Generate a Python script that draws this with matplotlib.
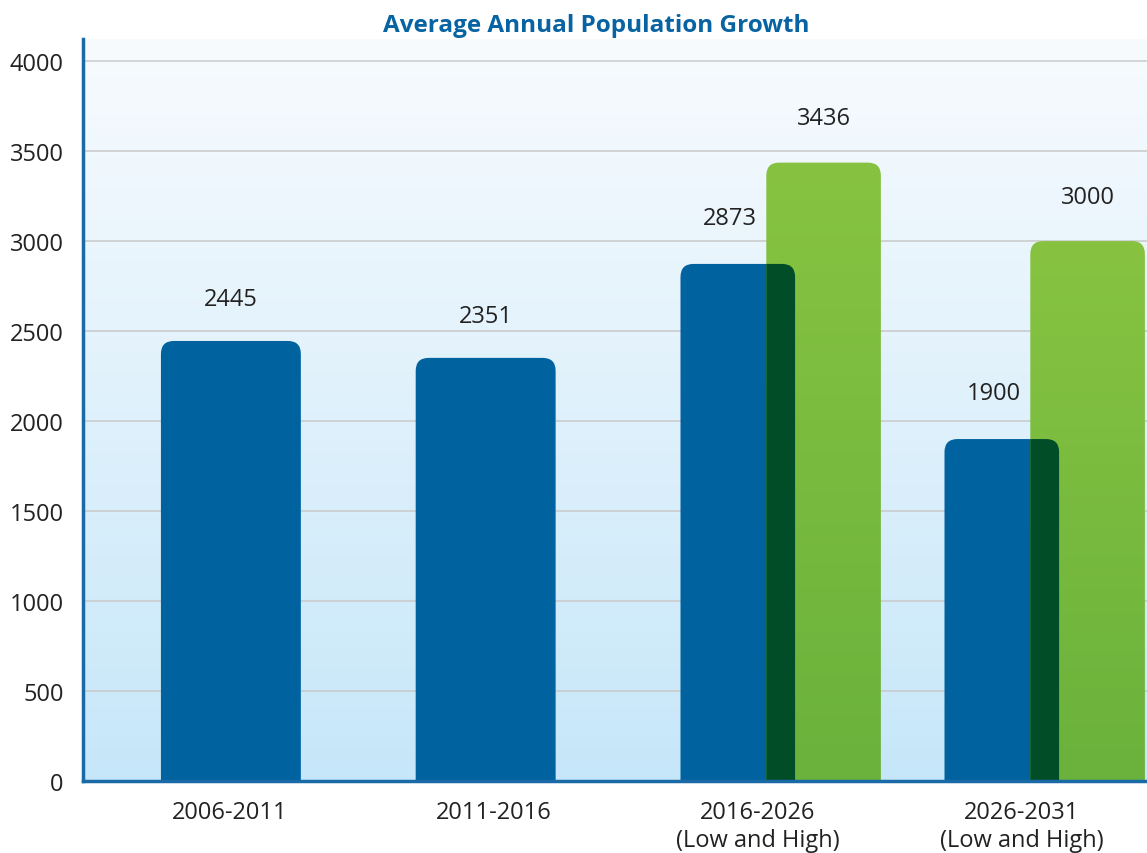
import matplotlib

matplotlib.use("Agg")
import matplotlib.pyplot as plt  # noqa: E402
import numpy as np  # noqa: E402
from matplotlib.patches import FancyBboxPatch  # noqa: E402

plt.rcParams["font.family"] = ["Open Sans", "DejaVu Sans"]

# data
periods = ["2006-2011", "2011-2016", "2016-2026\n(Low and High)", "2026-2031\n(Low and High)"]
low_growth = [2445, 2351, 2873, 1900]
high_growth = [None, None, 3436, 3000]

BLUE = "#0063a0"
DARK_GREEN = "#004d27"
AXIS_BLUE = "#1a6aa8"
TITLE_BLUE = "#0863a3"

fig = plt.figure(figsize=(11.47, 8.54), dpi=100)
ax = fig.add_axes([0.0724, 0.0843, 0.9276, 0.8687])

YMAX = 4122
x0, x1 = -0.555, 3.475
ax.set_xlim(x0, x1)
ax.set_ylim(0, YMAX)

# background gradient
grad = np.linspace(0, 1, 256).reshape(-1, 1)
bg = matplotlib.colors.LinearSegmentedColormap.from_list("bg", ["#c6e7f9", "#f8fbfe"])
ax.imshow(grad, aspect="auto", cmap=bg, origin="lower",
          extent=[x0, x1, 0, YMAX], zorder=0)

for y in range(500, 4001, 500):
    ax.axhline(y, color="#c9c9c9", lw=1.1, zorder=0.5)

# px -> data scaling for rounded corners
px_x = (x1 - x0) / 1064.0
px_y = YMAX / 742.0
rad = 13 * px_x
aspect = px_y / px_x


def rounded_bar(xc, w, h, **kw):
    p = FancyBboxPatch((xc - w / 2, -600), w, h + 600,
                       boxstyle=f"round,pad=0,rounding_size={rad}",
                       mutation_aspect=aspect, lw=0, **kw)
    ax.add_patch(p)
    return p


green_cmap = matplotlib.colors.LinearSegmentedColormap.from_list("g", ["#6ab23c", "#87c341"])
single_shift = [0.005, -0.03]

for i, (lo, hi) in enumerate(zip(low_growth, high_growth)):
    if hi is None:
        w = 0.53
        bx = i + single_shift[i]
        rounded_bar(bx, w, lo, color=BLUE, zorder=2)
        ax.annotate(f"{lo}", (bx, lo), xytext=(0, 30), textcoords="offset points",
                    ha="center", va="center", fontsize=17, color="#222222")
    else:
        w = 0.434
        bx = i - 0.075
        gx = i + 0.25
        rounded_bar(bx, w, lo, color=BLUE, zorder=2)
        gp = rounded_bar(gx, w, hi, facecolor="none", zorder=3)
        im = ax.imshow(grad, aspect="auto", cmap=green_cmap, origin="lower",
                       extent=[gx - w / 2, gx + w / 2, 0, hi], zorder=3)
        im.set_clip_path(gp)
        ov = rounded_bar(bx, w, lo, color=DARK_GREEN, zorder=4)
        ov.set_clip_path(gp)
        ax.annotate(f"{lo}", (bx - 0.03, lo), xytext=(0, 33), textcoords="offset points",
                    ha="center", va="center", fontsize=17, color="#222222")
        ax.annotate(f"{hi}", (gx, hi), xytext=(0, 32), textcoords="offset points",
                    ha="center", va="center", fontsize=17, color="#222222")

ax.set_xlim(x0, x1)
ax.set_ylim(0, YMAX)

ax.set_xticks(range(len(periods)))
ax.set_xticklabels(periods, fontsize=17, color="#222222", linespacing=1.2)
ax.set_yticks(range(0, 4001, 500))
ax.set_yticklabels([str(v) for v in range(0, 4001, 500)], fontsize=17, color="#222222")
ax.tick_params(length=0, pad=14)
ax.tick_params(axis="x", pad=14)
for s in ("top", "right"):
    ax.spines[s].set_visible(False)
for s in ("left", "bottom"):
    ax.spines[s].set_color(AXIS_BLUE)
    ax.spines[s].set_linewidth(2.5)
    ax.spines[s].set_zorder(6)

fig.text(0.52, 0.969, "Average Annual Population Growth", ha="center", va="center",
         fontsize=17.5, fontweight="bold", color=TITLE_BLUE)

fig.savefig("out.png", dpi=100)
